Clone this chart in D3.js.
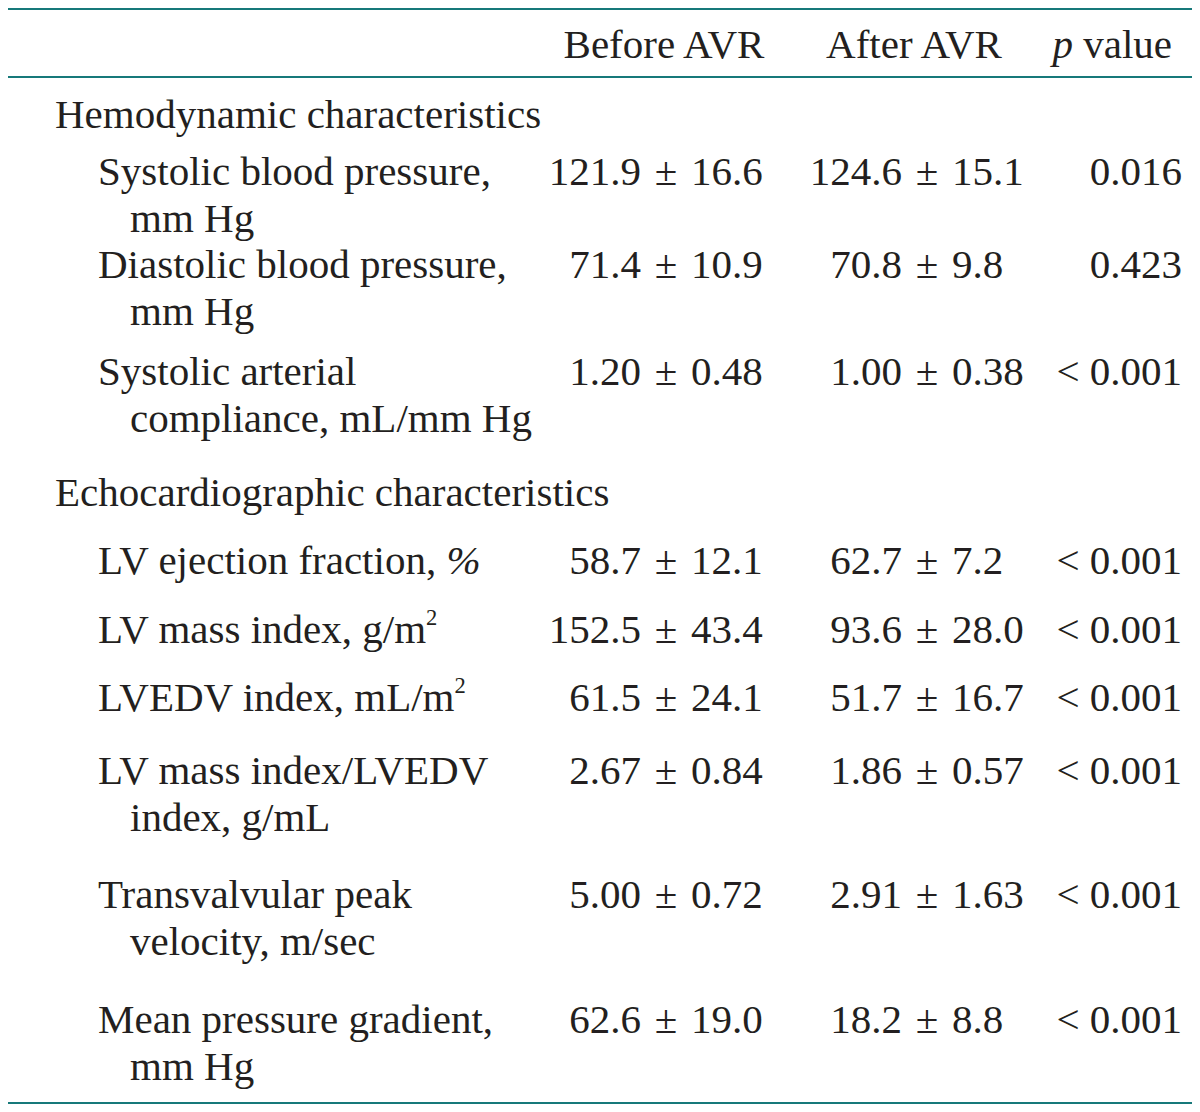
<!DOCTYPE html>
<html>
<head>
<meta charset="utf-8">
<script src="https://cdn.jsdelivr.net/npm/d3@7"></script>
<style>
  html, body { margin: 0; padding: 0; background: #ffffff; }
  svg text { font-family: "Liberation Serif", "DejaVu Serif", serif; fill: #231f20; }
</style>
</head>
<body>
<svg id="chart" width="1200" height="1112"></svg>
<script>
// ---------------- DATA ----------------
const columnHeaders = ["Before AVR", "After AVR", "p value"];
const sections = ["Hemodynamic characteristics", "Echocardiographic characteristics"];
const rowSection = [0, 0, 0, 1, 1, 1, 1, 1, 1];
const rowLabels = [
  ["Systolic blood pressure,", "mm Hg"],
  ["Diastolic blood pressure,", "mm Hg"],
  ["Systolic arterial", "compliance, mL/mm Hg"],
  ["LV ejection fraction, %"],
  ["LV mass index, g/m^2"],
  ["LVEDV index, mL/m^2"],
  ["LV mass index/LVEDV", "index, g/mL"],
  ["Transvalvular peak", "velocity, m/sec"],
  ["Mean pressure gradient,", "mm Hg"]
];
const beforeMean = ["121.9", "71.4", "1.20", "58.7", "152.5", "61.5", "2.67", "5.00", "62.6"];
const beforeSD   = ["16.6", "10.9", "0.48", "12.1", "43.4", "24.1", "0.84", "0.72", "19.0"];
const afterMean  = ["124.6", "70.8", "1.00", "62.7", "93.6", "51.7", "1.86", "2.91", "18.2"];
const afterSD    = ["15.1", "9.8", "0.38", "7.2", "28.0", "16.7", "0.57", "1.63", "8.8"];
const pValues    = ["0.016", "0.423", "< 0.001", "< 0.001", "< 0.001", "< 0.001", "< 0.001", "< 0.001", "< 0.001"];

// ---------------- LAYOUT ----------------
const FS = 41;
const lineColor = "#17797a";
const xLeft = 8, xRight = 1192;
const headerY = 58;
const sectionY = [128, 506];
const rowY = [185, 278, 385, 574, 643, 711, 784, 908, 1033];
const lineGap = 47;
const xSection = 55, xLabel = 98, xCont = 130;
const pmBefore = 666, pmAfter = 927, pRight = 1182;
const pmOffset = 25;
const hdrBefore = 664, hdrAfter = 914, hdrP = 1172;
const ruleY = [9, 77, 1103];

const svg = d3.select("#chart");

// rules
svg.selectAll("line.rule").data(ruleY).join("line")
  .attr("class", "rule")
  .attr("x1", xLeft).attr("x2", xRight)
  .attr("y1", d => d).attr("y2", d => d)
  .attr("stroke", lineColor).attr("stroke-width", 2.2);

// headers
svg.append("text").attr("x", hdrBefore).attr("y", headerY).attr("text-anchor", "middle")
  .attr("font-size", FS).text(columnHeaders[0]);
svg.append("text").attr("x", hdrAfter).attr("y", headerY).attr("text-anchor", "middle")
  .attr("font-size", FS).text(columnHeaders[1]);
const pt = svg.append("text").attr("x", hdrP).attr("y", headerY).attr("text-anchor", "end")
  .attr("font-size", FS);
const pParts = columnHeaders[2].split(" ");
pt.append("tspan").attr("font-style", "italic").text(pParts[0]);
pt.append("tspan").text(" " + pParts.slice(1).join(" "));

// sections
svg.selectAll("text.section").data(sections).join("text")
  .attr("class", "section")
  .attr("x", xSection).attr("y", (d, i) => sectionY[i])
  .attr("font-size", FS).text(d => d);

// label rendering with superscript and italic %
function renderLabel(sel, str) {
  const re = /(\^2|%)/;
  const parts = str.split(re).filter(s => s !== "");
  parts.forEach(p => {
    if (p === "^2") {
      sel.append("tspan").attr("font-size", FS * 0.55).attr("dy", -FS * 0.45).text("2");
    } else if (p === "%") {
      sel.append("tspan").attr("font-style", "italic").text("%");
    } else {
      sel.append("tspan").text(p);
    }
  });
}

const rows = svg.selectAll("g.row").data(rowLabels).join("g").attr("class", "row");
rows.each(function (lines, i) {
  const g = d3.select(this);
  lines.forEach((ln, j) => {
    const t = g.append("text")
      .attr("x", j === 0 ? xLabel : xCont)
      .attr("y", rowY[i] + j * lineGap)
      .attr("font-size", FS);
    renderLabel(t, ln);
  });
  const y = rowY[i];
  [[pmBefore, beforeMean[i], beforeSD[i]], [pmAfter, afterMean[i], afterSD[i]]].forEach(([px, m, s]) => {
    g.append("text").attr("x", px - pmOffset).attr("y", y).attr("text-anchor", "end").attr("font-size", FS).text(m);
    g.append("text").attr("x", px).attr("y", y).attr("text-anchor", "middle").attr("font-size", FS).text("±");
    g.append("text").attr("x", px + pmOffset).attr("y", y).attr("text-anchor", "start").attr("font-size", FS).text(s);
  });
  g.append("text").attr("x", pRight).attr("y", y).attr("text-anchor", "end").attr("font-size", FS).text(pValues[i]);
});
</script>
</body>
</html>
